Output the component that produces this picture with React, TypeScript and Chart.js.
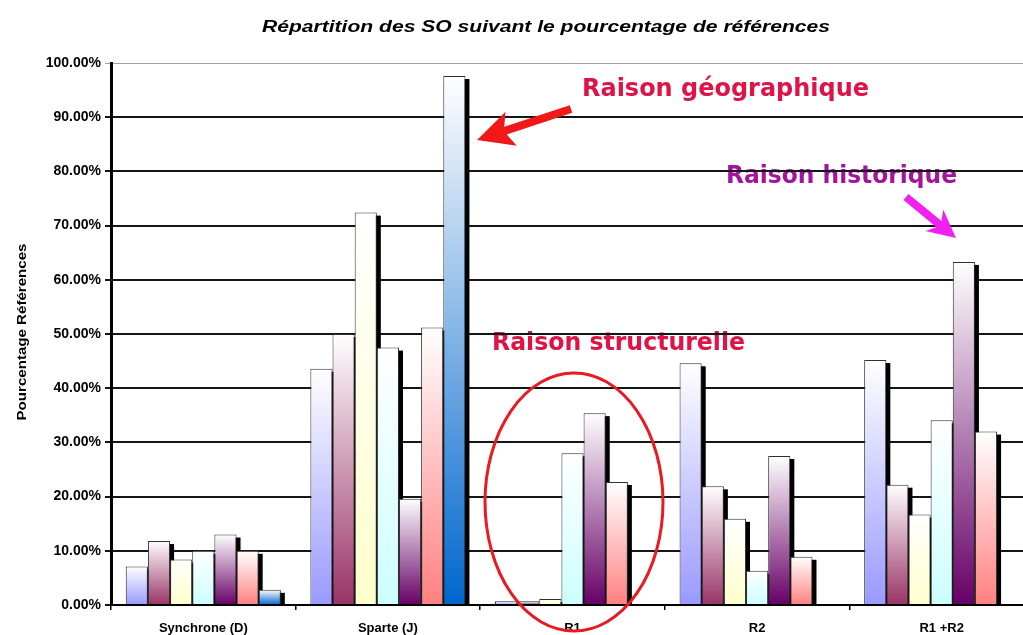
import React, { useEffect, useRef } from 'react';
import { Chart, registerables } from 'chart.js';

Chart.register(...registerables);

const categories = ['Synchrone (D)', 'Sparte (J)', 'R1', 'R2', 'R1 +R2'];
const series1 = [7.1, 43.6, 0.7, 44.6, 45.2];
const series2 = [11.8, 50.0, 0.7, 21.9, 22.2];
const series3 = [8.4, 72.4, 1.1, 15.9, 16.7];
const series4 = [10.0, 47.5, 28.0, 6.3, 34.1];
const series5 = [13.0, 19.6, 35.4, 27.5, 63.3];
const series6 = [10.0, 51.2, 22.7, 8.9, 32.0];
const series7 = [2.8, 97.6, null, null, null];
const seriesNames = ['Série 1', 'Série 2', 'Série 3', 'Série 4', 'Série 5', 'Série 6', 'Série 7'];
const seriesColors = ['#9999ff', '#993366', '#ffffcc', '#ccffff', '#660066', '#ff8080', '#0066cc'];
const yMin = 0;
const yMax = 100;
const yStep = 10;

const titleText = 'Répartition des SO suivant le pourcentage de références';
const yTitleText = 'Pourcentage Références';
const noteGeo = 'Raison géographique';
const noteHist = 'Raison historique';
const noteStruct = 'Raison structurelle';

function fitText(
  ctx: CanvasRenderingContext2D,
  text: string,
  x: number,
  y: number,
  font: string,
  width: number,
  align: CanvasTextAlign,
  color: string,
  rotate = 0
) {
  ctx.save();
  ctx.font = font;
  ctx.fillStyle = color;
  const w = ctx.measureText(text).width;
  const sx = width / w;
  ctx.translate(x, y);
  if (rotate) ctx.rotate(rotate);
  ctx.scale(sx, 1);
  ctx.textAlign = align;
  ctx.textBaseline = 'alphabetic';
  ctx.fillText(text, 0, 0);
  ctx.restore();
}

function drawArrow(
  ctx: CanvasRenderingContext2D,
  x1: number,
  y1: number,
  x2: number,
  y2: number,
  shaft: number,
  headLen: number,
  headW: number,
  color: string
) {
  const ang = Math.atan2(y2 - y1, x2 - x1);
  const len = Math.hypot(x2 - x1, y2 - y1);
  ctx.save();
  ctx.translate(x1, y1);
  ctx.rotate(ang);
  ctx.fillStyle = color;
  ctx.beginPath();
  ctx.moveTo(0, -shaft / 2);
  ctx.lineTo(len - headLen + 4, -shaft / 2);
  ctx.lineTo(len - headLen - 2, -headW / 2);
  ctx.lineTo(len, 0);
  ctx.lineTo(len - headLen - 2, headW / 2);
  ctx.lineTo(len - headLen + 4, shaft / 2);
  ctx.lineTo(0, shaft / 2);
  ctx.closePath();
  ctx.fill();
  ctx.restore();
}

const shadowPlugin = {
  id: 'barShadow',
  beforeDatasetsDraw(chart: any) {
    const { ctx, chartArea } = chart;
    ctx.save();
    ctx.beginPath();
    ctx.rect(chartArea.left, chartArea.top, chartArea.right - chartArea.left, chartArea.bottom - chartArea.top);
    ctx.clip();
    ctx.fillStyle = '#000';
    chart.data.datasets.forEach((ds: any, i: number) => {
      const meta = chart.getDatasetMeta(i);
      meta.data.forEach((bar: any, j: number) => {
        if (ds.data[j] == null) return;
        const { x, y, base, width } = bar.getProps(['x', 'y', 'base', 'width'], true);
        ctx.fillRect(x - width / 2 + 4, y + 3, width, base - y);
      });
    });
    ctx.restore();
  },
};

const notesPlugin = {
  id: 'notes',
  beforeDraw(chart: any) {
    const ctx = chart.ctx as CanvasRenderingContext2D;
    fitText(ctx, noteGeo, 582, 96, 'bold 25px "DejaVu Sans"', 287, 'left', '#de1446');
    fitText(ctx, noteHist, 726, 183, 'bold 25px "DejaVu Sans"', 231, 'left', '#a3139e');
    fitText(ctx, noteStruct, 492, 350, 'bold 25px "DejaVu Sans"', 253, 'left', '#de1446');
  },
  afterDraw(chart: any) {
    const ctx = chart.ctx as CanvasRenderingContext2D;
    fitText(ctx, titleText, 546, 32, 'italic bold 16px "Liberation Sans"', 568, 'center', '#000');
    fitText(ctx, yTitleText, 26, 332, 'bold 12px "Liberation Sans"', 177, 'center', '#000', -Math.PI / 2);
    drawArrow(ctx, 571, 109, 477, 140, 8, 34, 36, '#f01818');
    drawArrow(ctx, 906, 197, 956, 238, 8, 26, 28, '#f020f0');
    ctx.save();
    ctx.strokeStyle = '#e51c23';
    ctx.lineWidth = 3;
    ctx.beginPath();
    ctx.ellipse(574, 502, 89, 129, 0, 0, Math.PI * 2);
    ctx.stroke();
    ctx.restore();
  },
};

const allSeries = [series1, series2, series3, series4, series5, series6, series7];

export default function App() {
  const ref = useRef<HTMLCanvasElement>(null);
  useEffect(() => {
    Chart.defaults.font.family = '"Liberation Sans", Arial, sans-serif';
    const datasets = allSeries.map((data, i) => ({
      label: seriesNames[i],
      data,
      borderColor: '#303030',
      borderWidth: 1,
      backgroundColor: (c: any) => {
        const color = seriesColors[i];
        const chart = c.chart;
        if (!chart.chartArea || c.type !== 'data' || c.parsed == null || c.parsed.y == null) return color;
        const y = chart.scales.y;
        const top = y.getPixelForValue(c.parsed.y);
        const bottom = y.getPixelForValue(0);
        if (!isFinite(top) || !isFinite(bottom) || bottom - top < 1) return color;
        const g = chart.ctx.createLinearGradient(0, top, 0, bottom);
        g.addColorStop(0, '#ffffff');
        g.addColorStop(1, color);
        return g;
      },
      categoryPercentage: 0.84,
      barPercentage: 1.0,
    }));
    const chart = new Chart(ref.current!, {
      type: 'bar',
      data: { labels: categories, datasets },
      plugins: [shadowPlugin, notesPlugin],
      options: {
        responsive: false,
        animation: false,
        devicePixelRatio: 1,
        layout: { padding: { top: 63, right: 10, left: 0, bottom: 0 } },
        plugins: {
          legend: { display: false },
          title: { display: false },
          tooltip: { enabled: false },
        },
        scales: {
          x: {
            afterFit: (s: any) => {
              s.height = 30;
            },
            grid: {
              display: true,
              drawOnChartArea: false,
              drawTicks: true,
              tickLength: 5,
              color: '#000',
              lineWidth: 1.5,
            },
            border: { display: true, color: '#000', width: 2 },
            ticks: {
              color: '#000',
              padding: 11,
              font: { size: 13, weight: 'bold' },
              maxRotation: 0,
            },
          },
          y: {
            min: yMin,
            max: yMax,
            afterFit: (s: any) => {
              s.width = 111;
            },
            grid: {
              color: (c: any) => (c.tick && c.tick.value === yMax ? '#a0a0a0' : '#151515'),
              lineWidth: (c: any) => (c.tick && c.tick.value === yMax ? 1 : 2),
              drawTicks: true,
              tickLength: 6,
            },
            border: { display: true, color: '#000', width: 3 },
            ticks: {
              stepSize: yStep,
              color: '#000',
              padding: 4,
              font: { size: 14, weight: 'bold' },
              callback: (v: any) => Number(v).toFixed(2) + '%',
            },
          },
        },
      },
    } as any);
    return () => chart.destroy();
  }, []);
  return (
    <div
      style={{
        position: 'fixed',
        left: 0,
        top: 0,
        width: 1023,
        height: 635,
        overflow: 'hidden',
        background: '#fff',
      }}
    >
      <canvas ref={ref} width={1044} height={635} style={{ display: 'block', width: 1044, height: 635 }} />
    </div>
  );
}
